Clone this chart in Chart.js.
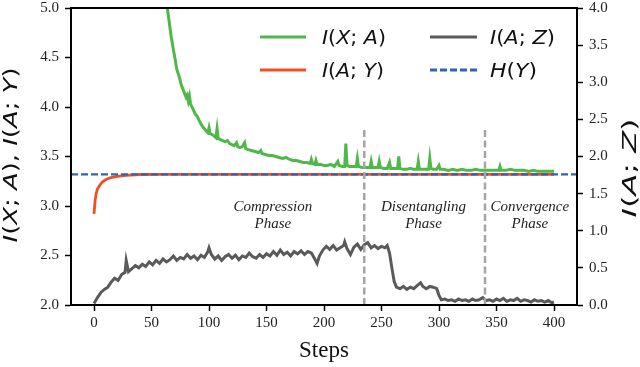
<!DOCTYPE html>
<html><head><meta charset="utf-8">
<script src="https://cdn.jsdelivr.net/npm/chart.js@4/dist/chart.umd.min.js"></script>
<style>html,body{margin:0;padding:0;background:#fff;}canvas{display:block;}</style>
</head><body>
<canvas id="c" width="640" height="367"></canvas>
<script>
// ---------- data ----------
const xTickValues = [0, 50, 100, 150, 200, 250, 300, 350, 400];
const leftTickValues = [2.0, 2.5, 3.0, 3.5, 4.0, 4.5, 5.0];
const rightTickValues = [0.0, 0.5, 1.0, 1.5, 2.0, 2.5, 3.0, 3.5, 4.0];

// I(X; A)  (left axis)
const greenSteps = [55,60,64,67,69,70,72,74,76,78,80,81,82,83,84,86,88,90,92,94,96,98,99,100,101,103,105,106,107,108,110,112,114,116,118,120,122,124,125,127,129,131,132,134,137,140,143,145,146,149,152,155,158,161,164,167,170,173,176,179,182,185,188,189,190,192,193,194,197,200,203,206,209,212,213,216,218,219,220,222,225,228,229,230,233,236,238,240,241,242,245,247,248,249,252,255,257,258,261,264,265,266,269,272,275,278,281,282,283,286,289,291,292,293,295,298,300,301,304,308,312,316,320,324,328,332,336,340,344,348,352,353,354,358,362,366,370,374,378,382,386,390,394,398,400];
const greenValues = [5.60,5.22,4.98,4.72,4.58,4.52,4.38,4.31,4.22,4.16,4.10,4.12,4.06,4.11,4.03,3.98,3.93,3.90,3.85,3.81,3.78,3.75,3.74,3.79,3.73,3.72,3.70,3.69,3.78,3.68,3.67,3.66,3.65,3.66,3.63,3.62,3.61,3.64,3.60,3.59,3.60,3.64,3.58,3.57,3.56,3.55,3.54,3.56,3.53,3.52,3.51,3.51,3.50,3.49,3.48,3.49,3.47,3.46,3.46,3.45,3.44,3.44,3.43,3.47,3.43,3.42,3.46,3.42,3.42,3.41,3.41,3.42,3.40,3.45,3.41,3.40,3.40,3.63,3.41,3.40,3.40,3.40,3.48,3.40,3.39,3.39,3.39,3.39,3.45,3.39,3.39,3.39,3.45,3.39,3.38,3.38,3.44,3.38,3.38,3.38,3.50,3.38,3.37,3.37,3.38,3.37,3.37,3.45,3.37,3.37,3.37,3.37,3.48,3.38,3.37,3.37,3.41,3.37,3.37,3.36,3.37,3.36,3.37,3.36,3.36,3.37,3.36,3.36,3.36,3.36,3.36,3.40,3.36,3.36,3.37,3.36,3.36,3.36,3.35,3.36,3.35,3.35,3.35,3.35,3.35];

// I(A; Y)  (left axis)
const redSteps = [0,1,2,3,5,7,10,14,20,28,40,60,100,150,200,250,300,350,400];
const redValues = [2.92,3.06,3.13,3.17,3.21,3.24,3.265,3.285,3.30,3.31,3.318,3.32,3.32,3.32,3.32,3.32,3.32,3.32,3.32];

// I(A; Z)  (right axis)
const graySteps = [0,3,6,9,12,15,18,21,24,27,28,30,33,36,39,42,45,48,51,54,57,60,63,66,69,72,75,78,81,84,87,90,93,96,99,100,102,105,108,111,114,117,120,123,126,129,132,135,138,141,144,147,150,153,156,159,162,165,168,171,174,177,180,183,186,189,192,194,196,199,202,205,208,211,214,217,218,220,223,226,229,232,235,238,241,244,247,250,253,255,257,259,261,263,266,269,272,275,278,281,284,286,289,292,295,298,300,302,305,308,311,314,317,320,323,326,329,332,335,338,341,344,347,350,353,356,359,362,365,368,371,374,377,380,383,386,389,392,395,398,400];
const grayValues = [0.02,0.10,0.17,0.21,0.24,0.31,0.36,0.33,0.41,0.44,0.60,0.45,0.49,0.53,0.50,0.55,0.52,0.58,0.54,0.60,0.56,0.62,0.58,0.61,0.66,0.60,0.64,0.62,0.68,0.63,0.66,0.61,0.67,0.64,0.72,0.77,0.68,0.62,0.66,0.60,0.65,0.68,0.63,0.67,0.61,0.66,0.64,0.70,0.65,0.63,0.68,0.64,0.69,0.66,0.72,0.67,0.74,0.68,0.71,0.66,0.72,0.69,0.73,0.68,0.72,0.70,0.62,0.56,0.66,0.74,0.79,0.75,0.80,0.74,0.77,0.80,0.85,0.76,0.68,0.78,0.82,0.75,0.81,0.84,0.77,0.80,0.76,0.79,0.77,0.80,0.70,0.50,0.32,0.24,0.22,0.25,0.21,0.24,0.22,0.26,0.30,0.25,0.22,0.25,0.24,0.22,0.13,0.07,0.08,0.06,0.07,0.05,0.08,0.06,0.07,0.05,0.08,0.06,0.07,0.10,0.06,0.07,0.05,0.08,0.06,0.09,0.05,0.07,0.06,0.09,0.05,0.07,0.06,0.04,0.07,0.05,0.06,0.04,0.06,0.03,0.04];

// H(Y) reference level (left axis), spanning the full x range
const hySteps = [-20, 420];
const hyValue = 3.32;

// phase boundaries and labels
const phaseSteps = [235, 340];
const phaseLineRange = [2.0, 3.8];
const phaseNames = ["Compression", "Disentangling", "Convergence"];
const phaseWord = "Phase";
const phaseLabelSteps = [155.5, 286.5, 379];
const phaseLabelValues = [2.95, 2.78];

const legendNames = ["I(X; A)", "I(A; Y)", "I(A; Z)", "H(Y)"];
const leftTitle = "I(X; A), I(A; Y)";
const rightTitle = "I(A; Z)";
const xTitle = "Steps";

// ---------- styles ----------
const C_GREEN = 'rgb(78,184,72)';
const C_RED = 'rgb(240,80,32)';
const C_GRAY = 'rgb(90,90,90)';
const C_BLUE = 'rgb(50,98,178)';
const C_PHASE = 'rgb(165,165,165)';

const pts = (xs, ys) => xs.map((x, i) => ({x: x, y: ys[i]}));

const datasets = [
  {label: 'phase1', data: phaseLineRange.map(v => ({x: phaseSteps[0], y: v})), yAxisID: 'y',
   borderColor: C_PHASE, borderWidth: 2.5, borderDash: [7, 3.5], order: 0},
  {label: 'phase2', data: phaseLineRange.map(v => ({x: phaseSteps[1], y: v})), yAxisID: 'y',
   borderColor: C_PHASE, borderWidth: 2.5, borderDash: [7, 3.5], order: 0},
  {label: legendNames[3], data: hySteps.map(s => ({x: s, y: hyValue})), yAxisID: 'y',
   borderColor: C_BLUE, borderWidth: 2.2, borderDash: [7, 3], order: 1},
  {label: legendNames[2], data: pts(graySteps, grayValues), yAxisID: 'y2',
   borderColor: C_GRAY, borderWidth: 3, order: 2},
  {label: legendNames[1], data: pts(redSteps, redValues), yAxisID: 'y',
   borderColor: C_RED, borderWidth: 2.8, order: 3},
  {label: legendNames[0], data: pts(greenSteps, greenValues), yAxisID: 'y',
   borderColor: C_GREEN, borderWidth: 3, order: 4},
];
datasets.forEach(d => { d.pointRadius = 0; d.tension = 0; d.fill = false; d.clip = 0; });

// draw "math" text: letters italic, punctuation upright, centred at origin, stretched to fitLen
function drawMath(ctx, text, size, fitLen, family) {
  const fam = family || '"DejaVu Sans"';
  const segs = [];
  for (const ch of text) {
    const it = /[A-Za-z]/.test(ch);
    if (segs.length && segs[segs.length - 1].it === it) segs[segs.length - 1].t += ch;
    else segs.push({t: ch, it: it});
  }
  let total = 0;
  segs.forEach(s => {
    ctx.font = (s.it ? 'italic ' : '') + size + 'px ' + fam;
    s.w = ctx.measureText(s.t).width; total += s.w;
  });
  const sx = fitLen ? fitLen / total : 1;
  ctx.save();
  ctx.scale(sx, 1);
  let x = -total / 2;
  ctx.textAlign = 'left';
  segs.forEach(s => {
    ctx.font = (s.it ? 'italic ' : '') + size + 'px ' + fam;
    ctx.fillText(s.t, x, 0); x += s.w;
  });
  ctx.restore();
}

const decor = {
  id: 'decor',
  afterDraw(chart) {
    const ctx = chart.ctx, a = chart.chartArea, sx = chart.scales.x, sy = chart.scales.y;
    ctx.save();
    // frame
    ctx.strokeStyle = '#000'; ctx.lineWidth = 2;
    ctx.strokeRect(a.left, a.top, a.right - a.left, a.bottom - a.top);
    ctx.textBaseline = 'alphabetic';
    // phase labels
    ctx.fillStyle = '#222';
    ctx.font = 'italic 15px "Liberation Serif"';
    ctx.textAlign = 'center';
    phaseNames.forEach((n, i) => {
      const px = sx.getPixelForValue(phaseLabelSteps[i]);
      ctx.fillText(n, px, sy.getPixelForValue(phaseLabelValues[0]));
      ctx.fillText(phaseWord, px, sy.getPixelForValue(phaseLabelValues[1]));
    });
    // legend
    const rows = [37, 70];
    const cols = [{l0: 260, l1: 306, t: 322}, {l0: 430, l1: 477, t: 490}];
    const items = [
      {n: legendNames[0], c: C_GREEN, dash: [], col: 0, row: 0, w: 64},
      {n: legendNames[1], c: C_RED, dash: [], col: 0, row: 1, w: 62},
      {n: legendNames[2], c: C_GRAY, dash: [], col: 1, row: 0, w: 65},
      {n: legendNames[3], c: C_BLUE, dash: [7, 3], col: 1, row: 1, w: 47},
    ];
    items.forEach(it => {
      const y = rows[it.row], col = cols[it.col];
      ctx.strokeStyle = it.c; ctx.lineWidth = 2.8; ctx.setLineDash(it.dash);
      ctx.beginPath(); ctx.moveTo(col.l0, y); ctx.lineTo(col.l1, y); ctx.stroke();
      ctx.setLineDash([]);
      ctx.fillStyle = '#111';
      ctx.save();
      ctx.translate(col.t + it.w / 2, y + 7);
      drawMath(ctx, it.n, 19, it.w);
      ctx.restore();
    });
    // axis titles
    ctx.fillStyle = '#111';
    ctx.save(); ctx.translate(17, 155); ctx.rotate(-Math.PI / 2);
    drawMath(ctx, leftTitle, 20, 175); ctx.restore();
    ctx.save(); ctx.translate(636, 168); ctx.rotate(-Math.PI / 2);
    drawMath(ctx, rightTitle, 20, 99); ctx.restore();
    ctx.save(); ctx.translate((a.left + a.right) / 2, 357);
    ctx.font = '23px "Liberation Serif"'; ctx.textAlign = 'center';
    ctx.fillText(xTitle, 0, 0); ctx.restore();
    ctx.restore();
  }
};

const tickFont = {family: '"Liberation Serif"', size: 15};
const gridCfg = {drawOnChartArea: false, drawTicks: true, tickLength: 6, tickColor: '#000', tickWidth: 1.5};
const noPad = s => { s.paddingTop = 0; s.paddingBottom = 0; s.paddingLeft = 0; s.paddingRight = 0; };

new Chart(document.getElementById('c'), {
  type: 'line',
  data: {datasets: datasets},
  plugins: [decor],
  options: {
    responsive: false, animation: false, events: [],
    layout: {padding: {top: 8, left: 0, right: 0, bottom: 0}},
    plugins: {legend: {display: false}, tooltip: {enabled: false}},
    scales: {
      x: {type: 'linear', min: -20, max: 420,
          afterBuildTicks: s => { s.ticks = xTickValues.map(v => ({value: v})); },
          afterFit: s => { s.height = 62; noPad(s); },
          ticks: {font: tickFont, color: '#222', padding: 3, maxRotation: 0, callback: v => String(v)},
          grid: gridCfg, border: {display: true, color: '#000', width: 2}},
      y: {type: 'linear', position: 'left', min: 2, max: 5,
          afterBuildTicks: s => { s.ticks = leftTickValues.map(v => ({value: v})); },
          afterFit: s => { s.width = 71; noPad(s); },
          ticks: {font: tickFont, color: '#222', padding: 6, callback: v => Number(v).toFixed(1)},
          grid: gridCfg, border: {display: true, color: '#000', width: 2}},
      y2: {type: 'linear', position: 'right', min: 0, max: 4,
          afterBuildTicks: s => { s.ticks = rightTickValues.map(v => ({value: v})); },
          afterFit: s => { s.width = 63; noPad(s); },
          ticks: {font: tickFont, color: '#222', padding: 6, callback: v => Number(v).toFixed(1)},
          grid: gridCfg, border: {display: true, color: '#000', width: 2}}
    }
  }
});
</script>
</body></html>
